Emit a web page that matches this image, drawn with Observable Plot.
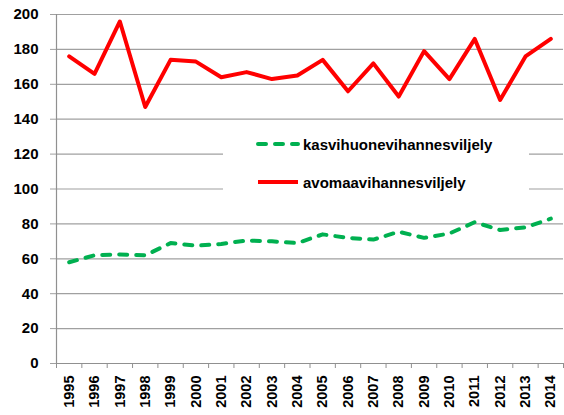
<!DOCTYPE html>
<html>
<head>
<meta charset="utf-8">
<script src="https://cdn.jsdelivr.net/npm/d3@7"></script>
<script src="https://cdn.jsdelivr.net/npm/@observablehq/plot@0.6"></script>
<style>
  html, body { margin: 0; padding: 0; background: #fff; }
  #wrap { position: relative; width: 564px; height: 415px; }
  #chart svg text { font-weight: bold; fill: #000; }
  #legend { position: absolute; left: 223px; top: 126px; width: 306px; height: 72px; background: #fff;
    font-family: "Liberation Sans", Arial, sans-serif; font-weight: bold; font-size: 15px; color: #000; }
  .row { position: absolute; left: 0; height: 20px; display: flex; align-items: center; }
  .row svg { margin-left: 33px; margin-right: 3px; }
</style>
</head>
<body>
<div id="wrap">
  <div id="chart"></div>
  <div id="legend">
    <div class="row" style="top:8px"><svg width="44" height="8"><line x1="2" y1="4" x2="42" y2="4" stroke="#00b050" stroke-width="4" stroke-dasharray="8,9" stroke-linecap="round"/></svg><span id="l1"></span></div>
    <div class="row" style="top:46px"><svg width="44" height="8"><line x1="2" y1="4" x2="42" y2="4" stroke="#ff0000" stroke-width="4"/></svg><span id="l2"></span></div>
  </div>
</div>
<script>
const years = [1995,1996,1997,1998,1999,2000,2001,2002,2003,2004,2005,2006,2007,2008,2009,2010,2011,2012,2013,2014];
const avomaa = [176,166,196,147,174,173,164,167,163,165,174,156,172,153,179,163,186,151,176,186];
const kasvihuone = [58,62,62.5,62,69,67.5,68.5,70.5,70,69,74,72,71,75.5,72,74.5,81,76.5,78,83];
const yTicks = [0,20,40,60,80,100,120,140,160,180,200];
const seriesNames = ["kasvihuonevihannesviljely", "avomaavihannesviljely"];

document.getElementById("l1").textContent = seriesNames[0];
document.getElementById("l2").textContent = seriesNames[1];

const dataK = years.map((y, i) => ({year: y, value: kasvihuone[i]}));
const dataA = years.map((y, i) => ({year: y, value: avomaa[i]}));
const bounds = years.map(y => y - 0.5).concat([years[years.length - 1] + 0.5]);

const chart = Plot.plot({
  width: 564,
  height: 415,
  marginLeft: 56,
  marginRight: 1,
  marginTop: 14,
  marginBottom: 52,
  style: {fontFamily: "Liberation Sans, Arial, sans-serif", fontSize: "15px", color: "#000", background: "#fff"},
  x: {type: "linear", domain: [bounds[0], bounds[bounds.length - 1]]},
  y: {domain: [0, 200]},
  marks: [
    Plot.ruleY(yTicks.filter(d => d > 0), {x1: bounds[0], x2: bounds[bounds.length - 1], stroke: "#a0a0a0", strokeWidth: 1.2, strokeOpacity: 1}),
    Plot.axisY({ticks: yTicks, tickSize: 6, tickPadding: 12, stroke: "#a0a0a0", label: null, fontSize: 15}),
    Plot.ruleX([bounds[0]], {stroke: "#909090", strokeWidth: 1.2}),
    Plot.ruleY([0], {stroke: "#909090", strokeWidth: 1.2}),
    Plot.axisX({ticks: bounds, tickFormat: () => "", tickSize: 5, stroke: "#909090", label: null}),
    Plot.axisX({ticks: years, tickFormat: d => String(d), tickSize: 0, tickPadding: 12, tickRotate: -90, label: null, fontSize: 14.5}),
    Plot.line(dataA, {x: "year", y: "value", stroke: "#ff0000", strokeWidth: 4, strokeLinejoin: "round"}),
    Plot.line(dataK, {x: "year", y: "value", stroke: "#00b050", strokeWidth: 4, strokeDasharray: "8,9", strokeLinecap: "round"})
  ]
});
document.getElementById("chart").appendChild(chart);
</script>
</body>
</html>
